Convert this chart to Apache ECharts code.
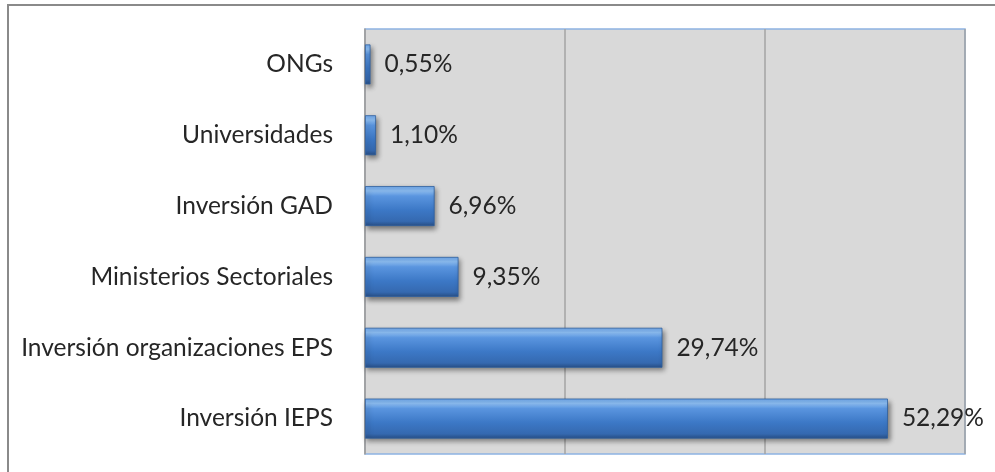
<!DOCTYPE html>
<html>
<head>
<meta charset="utf-8">
<script src="https://cdn.jsdelivr.net/npm/echarts@6/dist/echarts.min.js"></script>
<style>
html,body{margin:0;padding:0;background:#fff;}
#chart{width:995px;height:472px;}
</style>
</head>
<body>
<div id="chart"></div>
<script>
const categories = ['ONGs', 'Universidades', 'Inversión GAD', 'Ministerios Sectoriales', 'Inversión organizaciones EPS', 'Inversión IEPS'];
const values = [0.55, 1.10, 6.96, 9.35, 29.74, 52.29];
const axisMin = 0, axisMax = 60, axisStep = 20;

const chart = echarts.init(document.getElementById('chart'), null, {renderer: 'canvas'});
const font = 'Lato';
chart.setOption({
  backgroundColor: '#ffffff',
  animation: false,
  graphic: [{
    type: 'rect', silent: true, z: 100,
    shape: {x: 8, y: 5, width: 1100, height: 600},
    style: {fill: 'none', stroke: '#8a8a8a', lineWidth: 2}
  }],
  grid: {
    left: 365, top: 29, width: 600, height: 425,
    show: true, backgroundColor: '#d9d9d9', borderColor: '#8db3e2', borderWidth: 1.5
  },
  xAxis: {
    type: 'value', min: axisMin, max: axisMax, interval: axisStep,
    axisLabel: {show: false}, axisTick: {show: false}, axisLine: {show: false},
    splitLine: {show: true, lineStyle: {color: '#a3a3a3', width: 1.5}}
  },
  yAxis: {
    type: 'category', data: categories, inverse: true,
    axisLine: {show: true, lineStyle: {color: '#a0a0a0', width: 1.5}},
    axisTick: {show: false},
    axisLabel: {margin: 32, color: '#262626', fontFamily: font, fontSize: 24.5}
  },
  series: [{
    type: 'bar', data: values, barWidth: 40,
    itemStyle: {
      color: new echarts.graphic.LinearGradient(0, 0, 0, 1, [
        {offset: 0, color: '#6ea6ea'},
        {offset: 0.12, color: '#8ec0f6'},
        {offset: 0.25, color: '#5a95df'},
        {offset: 0.6, color: '#3c78c6'},
        {offset: 0.88, color: '#3569b0'},
        {offset: 1, color: '#284f86'}
      ]),
      borderColor: '#2f5f9e', borderWidth: 0.8,
      shadowColor: 'rgba(0,0,0,0.45)', shadowBlur: 5, shadowOffsetX: 2, shadowOffsetY: 3
    },
    label: {
      show: true, position: 'right', distance: 14,
      color: '#262626', fontFamily: font, fontSize: 24.5,
      formatter: p => p.value.toFixed(2).replace('.', ',') + '%'
    }
  }]
});
</script>
</body>
</html>
